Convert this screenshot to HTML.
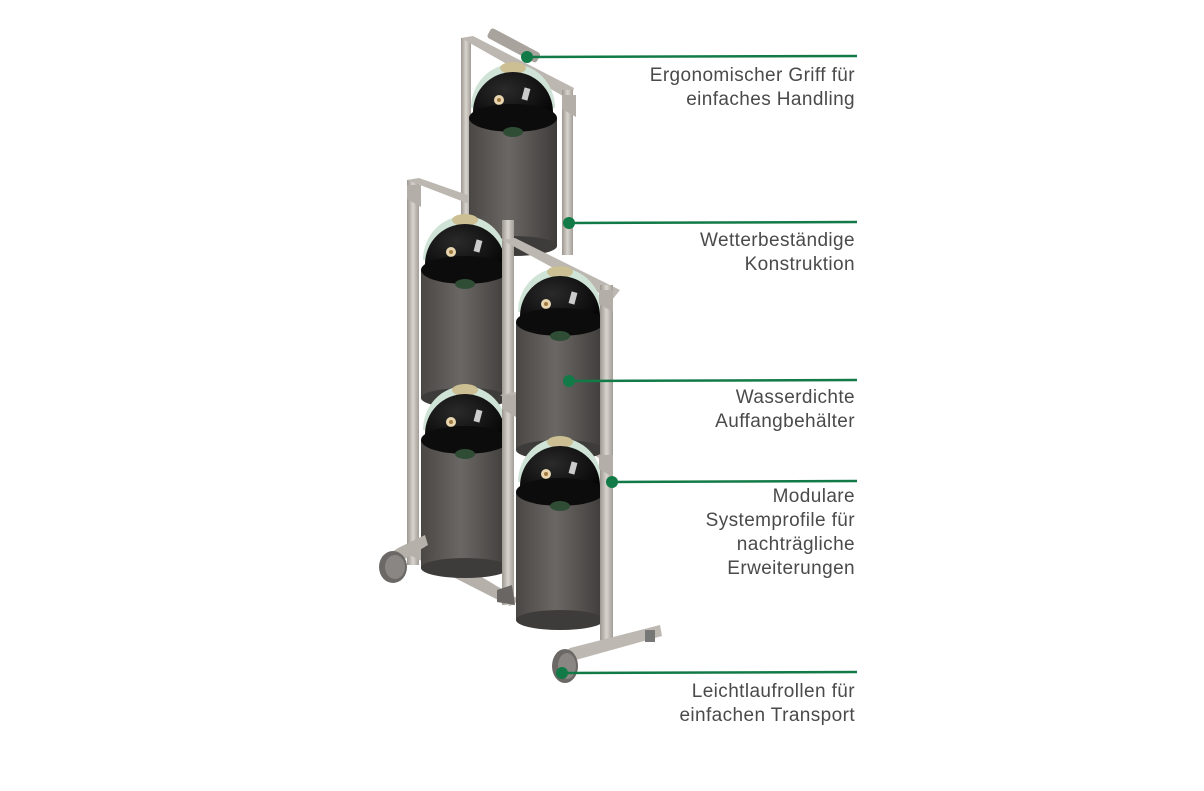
<!DOCTYPE html>
<html><head><meta charset="utf-8"><style>
body{margin:0;background:#fff;width:1204px;height:791px;overflow:hidden;position:relative;font-family:"Liberation Sans",sans-serif}
.t{position:absolute;right:349px;text-align:right;color:#4a4a4a;font-size:19px;letter-spacing:0.4px;line-height:24px}
</style></head><body>
<svg width="1204" height="791" style="position:absolute;left:0;top:0">
<defs>
<linearGradient id="cy" x1="0" x2="1"><stop offset="0" stop-color="#4a4745"/><stop offset=".45" stop-color="#6b6764"/><stop offset="1" stop-color="#3e3c3a"/></linearGradient>
<linearGradient id="al" x1="0" x2="1"><stop offset="0" stop-color="#9c978f"/><stop offset=".5" stop-color="#d8d4ce"/><stop offset="1" stop-color="#a29d96"/></linearGradient>
<radialGradient id="dm" cx=".4" cy=".35" r=".7"><stop offset="0" stop-color="#2a2a2a"/><stop offset="1" stop-color="#050505"/></radialGradient>
<g id="unit">
<path d="M-42,-10 A42,44 0 0 1 42,-10 Z" fill="#cfe3d6"/>
<ellipse cx="0" cy="-50" rx="13" ry="6" fill="#cbbf93"/>
<path d="M-40,-6 A40,40 0 0 1 40,-6 L40,5 L-40,5Z" fill="url(#dm)"/>
<circle cx="-14" cy="-18" r="5" fill="#e8d6b0"/><circle cx="-14" cy="-18" r="2" fill="#a07a40"/>
<rect x="10" y="-30" width="6" height="12" fill="#ccc" transform="rotate(15 13 -24)"/>
<rect x="-44" y="0" width="88" height="128" fill="url(#cy)"/>
<ellipse cx="0" cy="128" rx="44" ry="10" fill="#3e3c3a"/>
<ellipse cx="0" cy="0" rx="44" ry="14" fill="#0c0c0c"/>
<ellipse cx="0" cy="14" rx="10" ry="5" fill="#2f4d35"/>
</g>
<g id="gus"><polygon points="0,0 14,0 14,22 0,14" fill="#b3aea7"/></g>
</defs>
<rect x="461" y="38" width="10" height="210" fill="url(#al)"/>
<rect x="407" y="180" width="12" height="385" fill="url(#al)"/>
<polygon points="407,180 419,178 522,214 516,222" fill="#bcb7b0"/>
<polygon points="461,38 473,36 574,88 570,100" fill="#bcb7b0"/>
<rect x="486" y="40" width="56" height="11" rx="3" fill="#a8a39c" transform="rotate(28 514 45)"/>
<polygon points="400,550 420,540 520,600 510,606" fill="#b5b0a9"/>
<use href="#unit" x="513" y="118"/>
<use href="#unit" x="465" y="270"/>
<use href="#unit" x="465" y="440"/>
<rect x="502" y="220" width="12" height="385" fill="url(#al)"/>
<polygon points="502,240 515,238 620,290 612,300" fill="#bcb7b0"/>
<polygon points="500,395 515,392 612,455 605,462" fill="#bcb7b0"/>
<use href="#unit" x="560" y="322"/>
<use href="#unit" x="560" y="492"/>
<rect x="562" y="90" width="11" height="165" fill="url(#al)"/>
<rect x="600" y="285" width="13" height="360" fill="url(#al)"/>
<use href="#gus" x="407" y="185"/><use href="#gus" x="562" y="95"/><use href="#gus" x="599" y="290"/><use href="#gus" x="599" y="455"/><use href="#gus" x="502" y="395"/>
<polygon points="560,655 570,648 660,625 662,636 572,661" fill="#bdb8b1"/>
<rect x="645" y="630" width="10" height="12" fill="#777"/>
<ellipse cx="565" cy="666" rx="13" ry="17" fill="#6b6866"/><ellipse cx="567" cy="666" rx="9" ry="13" fill="#8a8683"/>
<polygon points="388,555 398,548 425,535 428,545 400,562" fill="#b5b0a9"/>
<ellipse cx="393" cy="567" rx="14" ry="16" fill="#6b6866"/><ellipse cx="395" cy="567" rx="10" ry="12" fill="#8a8683"/>
<polygon points="497,590 512,585 515,605 497,602" fill="#6a6663"/>
<g stroke="#127a46" stroke-width="2.5" fill="#127a46">
<line x1="527" y1="57" x2="857" y2="56"/><circle cx="527" cy="57" r="6" stroke="none"/>
<line x1="569" y1="223" x2="857" y2="222"/><circle cx="569" cy="223" r="6" stroke="none"/>
<line x1="569" y1="381" x2="857" y2="380"/><circle cx="569" cy="381" r="6" stroke="none"/>
<line x1="612" y1="482" x2="857" y2="481"/><circle cx="612" cy="482" r="6" stroke="none"/>
<line x1="562" y1="673" x2="857" y2="672"/><circle cx="562" cy="673" r="6" stroke="none"/>
</g>
</svg>
<div class="t" style="top:64px">Ergonomischer Griff für<br>einfaches Handling</div>
<div class="t" style="top:229px">Wetterbeständige<br>Konstruktion</div>
<div class="t" style="top:386px">Wasserdichte<br>Auffangbehälter</div>
<div class="t" style="top:485px">Modulare<br>Systemprofile für<br>nachträgliche<br>Erweiterungen</div>
<div class="t" style="top:680px">Leichtlaufrollen für<br>einfachen Transport</div>
</body></html>
